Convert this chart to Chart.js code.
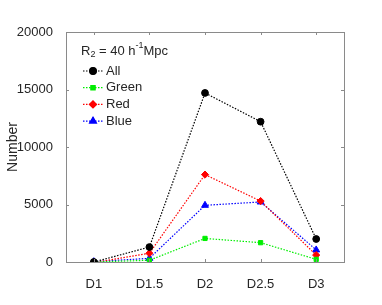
<!DOCTYPE html>
<html>
<head>
<meta charset="utf-8">
<script src="https://cdn.jsdelivr.net/npm/chart.js@4"></script>
<style>
  html, body { margin: 0; padding: 0; background: #fff; }
  #wrap { width: 382px; height: 305px; }
</style>
</head>
<body>
<div id="wrap"><canvas id="c" width="382" height="305"></canvas></div>
<script>
const categories = ['D1', 'D1.5', 'D2', 'D2.5', 'D3'];
const allCounts = [0, 1300, 14700, 12200, 2000];
const greenCounts = [0, 150, 2050, 1680, 230];
const redCounts = [-50, 760, 7600, 5300, 600];
const blueCounts = [30, 320, 4930, 5220, 1050];
const yTicks = [0, 5000, 10000, 15000, 20000];

const font = 'Liberation Sans, Arial, Helvetica, sans-serif';
const boxColor = '#8a8a8a';
const textColor = '#262626';

function series(label, data, color, style, radius) {
  return {
    label, data,
    borderColor: color, backgroundColor: color,
    borderWidth: 1.2, borderDash: [1.5, 1.5],
    pointStyle: style, pointRadius: radius, pointHoverRadius: radius,
    pointBorderWidth: 1,
    tension: 0
  };
}

// box + inward ticks on all four sides, MATLAB style
const boxPlugin = {
  id: 'box',
  afterDraw(chart) {
    const { ctx, chartArea: a, scales } = chart;
    ctx.save();
    ctx.strokeStyle = boxColor;
    ctx.lineWidth = 1;
    ctx.strokeRect(a.left + 0.5, a.top + 0.5, a.right - a.left, a.bottom - a.top);
    ctx.beginPath();
    yTicks.forEach(v => {
      const y = Math.round(scales.y.getPixelForValue(v)) + 0.5;
      ctx.moveTo(a.left, y); ctx.lineTo(a.left + 3, y);
      ctx.moveTo(a.right, y); ctx.lineTo(a.right - 3, y);
    });
    categories.forEach((c, i) => {
      const x = Math.round(scales.x.getPixelForValue(i)) + 0.5;
      ctx.moveTo(x, a.bottom); ctx.lineTo(x, a.bottom - 3);
      ctx.moveTo(x, a.top); ctx.lineTo(x, a.top + 3);
    });
    ctx.stroke();
    ctx.restore();
  }
};

// legend inside the plot, top-left
const legendPlugin = {
  id: 'insideLegend',
  afterDatasetsDraw(chart) {
    const { ctx, chartArea: a } = chart;
    ctx.save();
    ctx.fillStyle = textColor;
    ctx.font = '13px ' + font;
    ctx.textBaseline = 'middle';
    let x = a.left + 15, y = a.top + 19;
    ctx.fillText('R', x, y);
    x += ctx.measureText('R').width;
    ctx.font = '9px ' + font;
    ctx.fillText('2', x, y + 4);
    x += ctx.measureText('2').width;
    ctx.font = '13px ' + font;
    ctx.fillText(' = 40 h', x, y);
    x += ctx.measureText(' = 40 h').width;
    ctx.font = '9px ' + font;
    ctx.fillText('-1', x, y - 5);
    x += ctx.measureText('-1').width;
    ctx.font = '13px ' + font;
    ctx.fillText('Mpc', x, y);

    chart.data.datasets.forEach((ds, i) => {
      const ly = a.top + 39 + i * 16.7;
      const x0 = a.left + 17, x1 = a.left + 37;
      ctx.strokeStyle = ds.borderColor;
      ctx.lineWidth = 1.2;
      ctx.setLineDash([1.5, 1.5]);
      ctx.beginPath();
      ctx.moveTo(x0, ly); ctx.lineTo(x1, ly);
      ctx.stroke();
      ctx.setLineDash([]);
      Chart.helpers.drawPoint(ctx, {
        pointStyle: ds.pointStyle, radius: ds.pointRadius, rotation: 0, borderWidth: 1
      }, (x0 + x1) / 2, ly);
      ctx.fillStyle = ds.borderColor;
      ctx.fill();
      ctx.fillStyle = textColor;
      ctx.font = '13px ' + font;
      ctx.fillText(ds.label, x1 + 3, ly);
    });
    ctx.restore();
  }
};

new Chart(document.getElementById('c'), {
  type: 'line',
  data: {
    labels: categories,
    datasets: [
      series('All', allCounts, '#000000', 'circle', 3.4),
      series('Green', greenCounts, '#00ee00', 'rect', 3),
      series('Red', redCounts, '#ff0000', 'rectRot', 3.6),
      series('Blue', blueCounts, '#0000ff', 'triangle', 4)
    ]
  },
  options: {
    responsive: false,
    animation: false,
    layout: { padding: { left: 0, top: 32, right: 38, bottom: 0 } },
    plugins: { legend: { display: false }, tooltip: { enabled: false } },
    scales: {
      x: {
        offset: true,
        grid: { display: false },
        border: { display: false },
        ticks: { color: textColor, font: { family: font, size: 13 }, padding: 7, maxRotation: 0 },
        afterFit: s => { s.height = 43; }
      },
      y: {
        min: 0, max: 20000,
        grid: { display: false },
        border: { display: false },
        afterBuildTicks: s => { s.ticks = yTicks.map(v => ({ value: v })); },
        ticks: { color: textColor, font: { family: font, size: 13 }, padding: 5, callback: v => String(v) },
        title: { display: true, text: 'Number', color: textColor, font: { family: font, size: 14 }, padding: { top: 5, bottom: 0 } },
        afterFit: s => { s.width = 66; }
      }
    }
  },
  plugins: [boxPlugin, legendPlugin]
});
</script>
</body>
</html>
